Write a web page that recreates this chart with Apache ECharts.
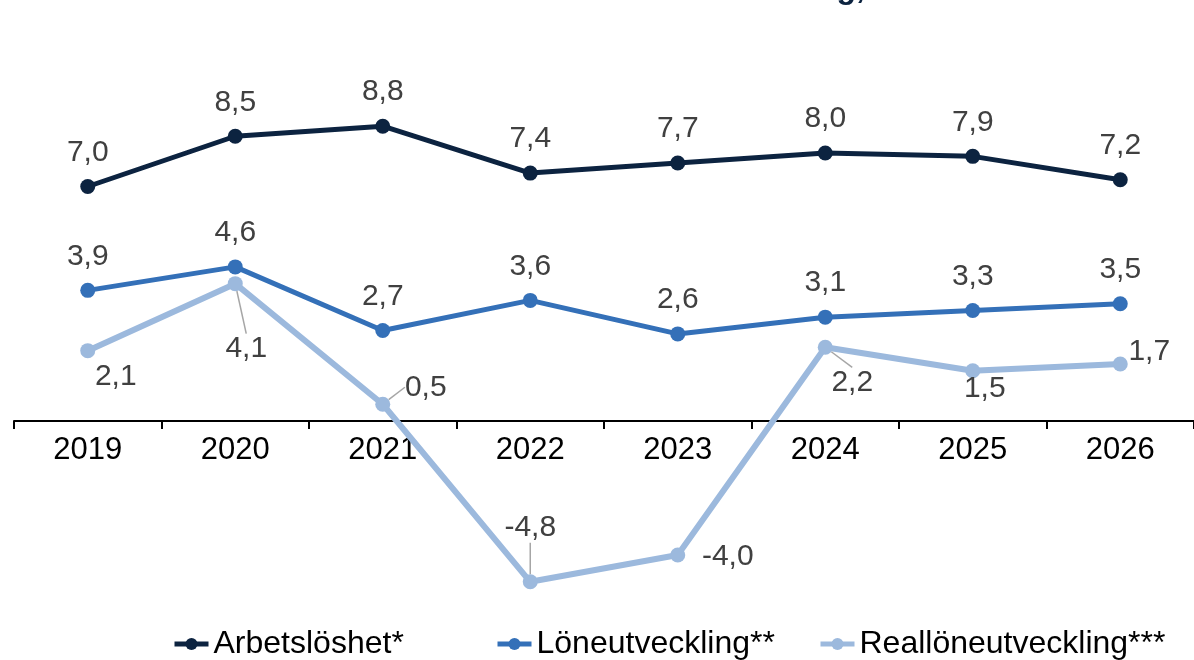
<!DOCTYPE html>
<html><head><meta charset="utf-8">
<script src="https://cdn.jsdelivr.net/npm/echarts@6/dist/echarts.min.js"></script>
<style>html,body{margin:0;padding:0;background:#fff}#c{width:1194px;height:660px}</style>
</head><body><div id="c"></div>
<script>
const categories = ['2019','2020','2021','2022','2023','2024','2025','2026'];
const unemployment = [7.0, 8.5, 8.8, 7.4, 7.7, 8.0, 7.9, 7.2];
const wages = [3.9, 4.6, 2.7, 3.6, 2.6, 3.1, 3.3, 3.5];
const realWages = [2.1, 4.1, 0.5, -4.8, -4.0, 2.2, 1.5, 1.7];
const seriesNames = ['Arbetslöshet*', 'Löneutveckling**', 'Reallöneutveckling***'];

const fmt = v => v.toFixed(1).replace('.', ',');
const realOffsets = [[28,26],[11,65],[43,-17],[0,-54],[50,2],[27,35],[12,18],[29,-12]];
const realLeader = [false,true,true,true,false,true,false,false];
const legendLefts = [172, 495, 818];

const chart = echarts.init(document.getElementById('c'), null, {renderer:'canvas'});
const labelBase = {show:true, position:'inside', offset:[0,-34], fontSize:30, color:'#404040', fontFamily:'Liberation Sans, Arial, sans-serif', formatter: p => fmt(p.value), align:'center', verticalAlign:'middle'};

function mk(name, data, color, width) {
  return {name, type:'line', data, symbol:'circle', symbolSize:15, lineStyle:{color, width}, itemStyle:{color}, label:labelBase, z:3};
}
const s3 = mk(seriesNames[2], realWages.map((v,i)=>({value:v, label:{offset:realOffsets[i]}, labelLine:{show:realLeader[i]}})), '#9cb9dd', 6);
s3.labelLine = {show:false, lineStyle:{color:'#a6a6a6', width:1.5}};
s3.z = 2;

chart.setOption({
  animation:false,
  textStyle:{fontFamily:'Liberation Sans, Arial, sans-serif'},
  graphic:[{type:'text', x:865, y:5, style:{text:'Arbetslöshet och löneutveckling,', font:'bold 32px Liberation Sans, Arial, sans-serif', fill:'#0c2340', align:'right', verticalAlign:'bottom'}}],
  grid:{left:14, right:0, top:86, bottom:38, containLabel:false, outerBoundsMode:'none'},
  legend: seriesNames.map((n,i)=>({left:legendLefts[i], top:628, itemWidth:34, itemHeight:15, padding:0,
    lineStyle:{width:5}, textStyle:{fontSize:32, color:'#000'}, data:[n]})),
  xAxis:[{type:'category', data:categories, boundaryGap:true,
    axisLine:{onZero:true, lineStyle:{color:'#000', width:2}},
    axisTick:{show:true, interval:0, length:8, lineStyle:{color:'#000', width:2}},
    axisLabel:{show:false}},
   {type:'category', data:categories, boundaryGap:true, position:'bottom', offset:-202,
    axisLine:{show:false}, axisTick:{show:false},
    axisLabel:{fontSize:31, color:'#000', margin:15, interval:0}}],
  yAxis:{type:'value', min:-6, max:10, show:false, splitLine:{show:false}},
  series:[mk(seriesNames[0], unemployment, '#0c2340', 5), mk(seriesNames[1], wages, '#3470b8', 5), s3]
});
</script></body></html>
